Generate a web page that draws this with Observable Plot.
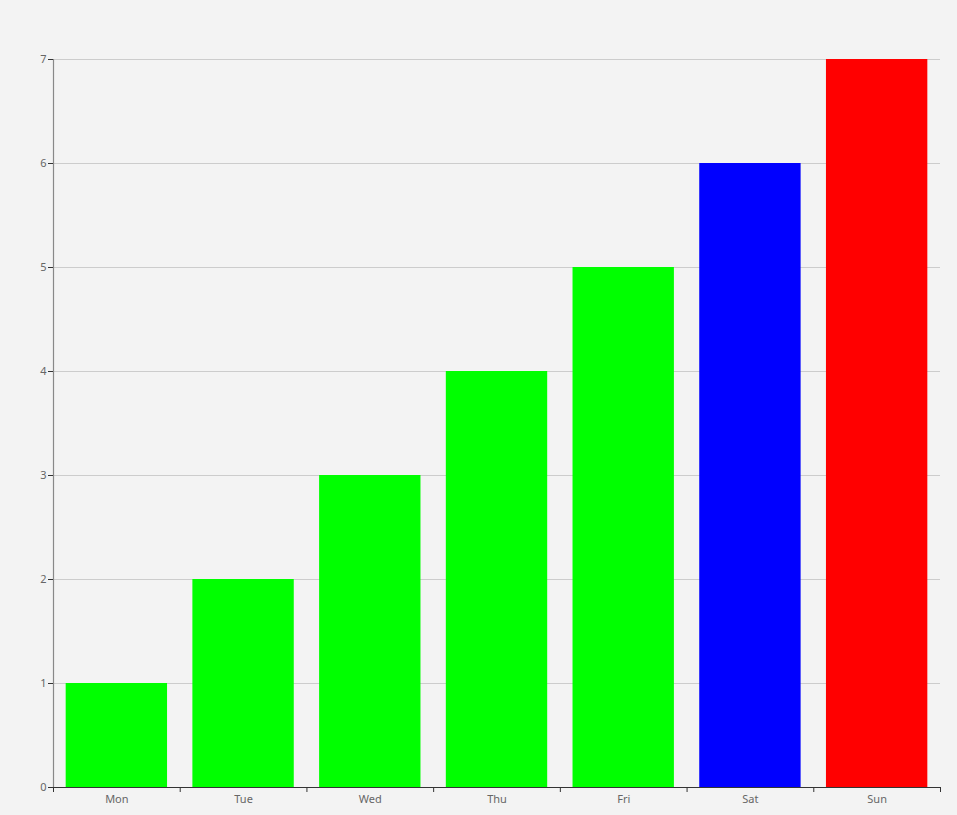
<!DOCTYPE html>
<html>
<head>
<meta charset="utf-8">
<script src="https://cdn.jsdelivr.net/npm/d3@7"></script>
<script src="https://cdn.jsdelivr.net/npm/@observablehq/plot@0.6"></script>
<style>
  html, body { margin: 0; padding: 0; background: #f3f3f3; }
  #chart svg { display: block; background: #f3f3f3; }
</style>
</head>
<body>
<div id="chart"></div>
<script>
const days = ["Mon", "Tue", "Wed", "Thu", "Fri", "Sat", "Sun"];
const values = [1, 2, 3, 4, 5, 6, 7];
const colors = ["#00ff00", "#00ff00", "#00ff00", "#00ff00", "#00ff00", "#0000ff", "#ff0000"];
const yTicks = [0, 1, 2, 3, 4, 5, 6, 7];

const data = days.map((d, i) => ({day: d, i, value: values[i], color: colors[i]}));

const chart = Plot.plot({
  width: 957,
  height: 815,
  marginLeft: 53,
  marginRight: 17,
  marginTop: 59,
  marginBottom: 28,
  style: {background: "#f3f3f3", fontFamily: "'Noto Sans', 'DejaVu Sans', sans-serif", fontSize: "11px"},
  x: {domain: [0, days.length], axis: null, label: null},
  y: {domain: [0, 7], axis: null, label: null},
  marks: [
    Plot.gridY(yTicks, {stroke: "#cccccc", strokeOpacity: 1, strokeWidth: 1}),
    Plot.rectY(data, {x1: d => d.i + 0.1, x2: d => d.i + 0.9, y1: 0, y2: "value", fill: "color"}),
    Plot.ruleX([0], {stroke: "#888888", strokeWidth: 1.2}),
    Plot.axisY(yTicks, {tickSize: 5, tickPadding: 2, stroke: "#333", fill: "#666", fontSize: 11, anchor: "left", label: null, tickFormat: d => String(d)}),
    Plot.ruleY([0], {stroke: "#333333", strokeWidth: 1.2}),
    Plot.axisX(d3.range(days.length + 1), {tickSize: 5, tickFormat: () => "", stroke: "#333", anchor: "bottom", label: null}),
    Plot.axisX(data.map(d => d.i + 0.5), {tickSize: 0, tickPadding: 8, tickFormat: v => days[Math.floor(v)], fill: "#666", fontSize: 11, anchor: "bottom", label: null})
  ]
});
document.getElementById("chart").appendChild(chart);
</script>
</body>
</html>
